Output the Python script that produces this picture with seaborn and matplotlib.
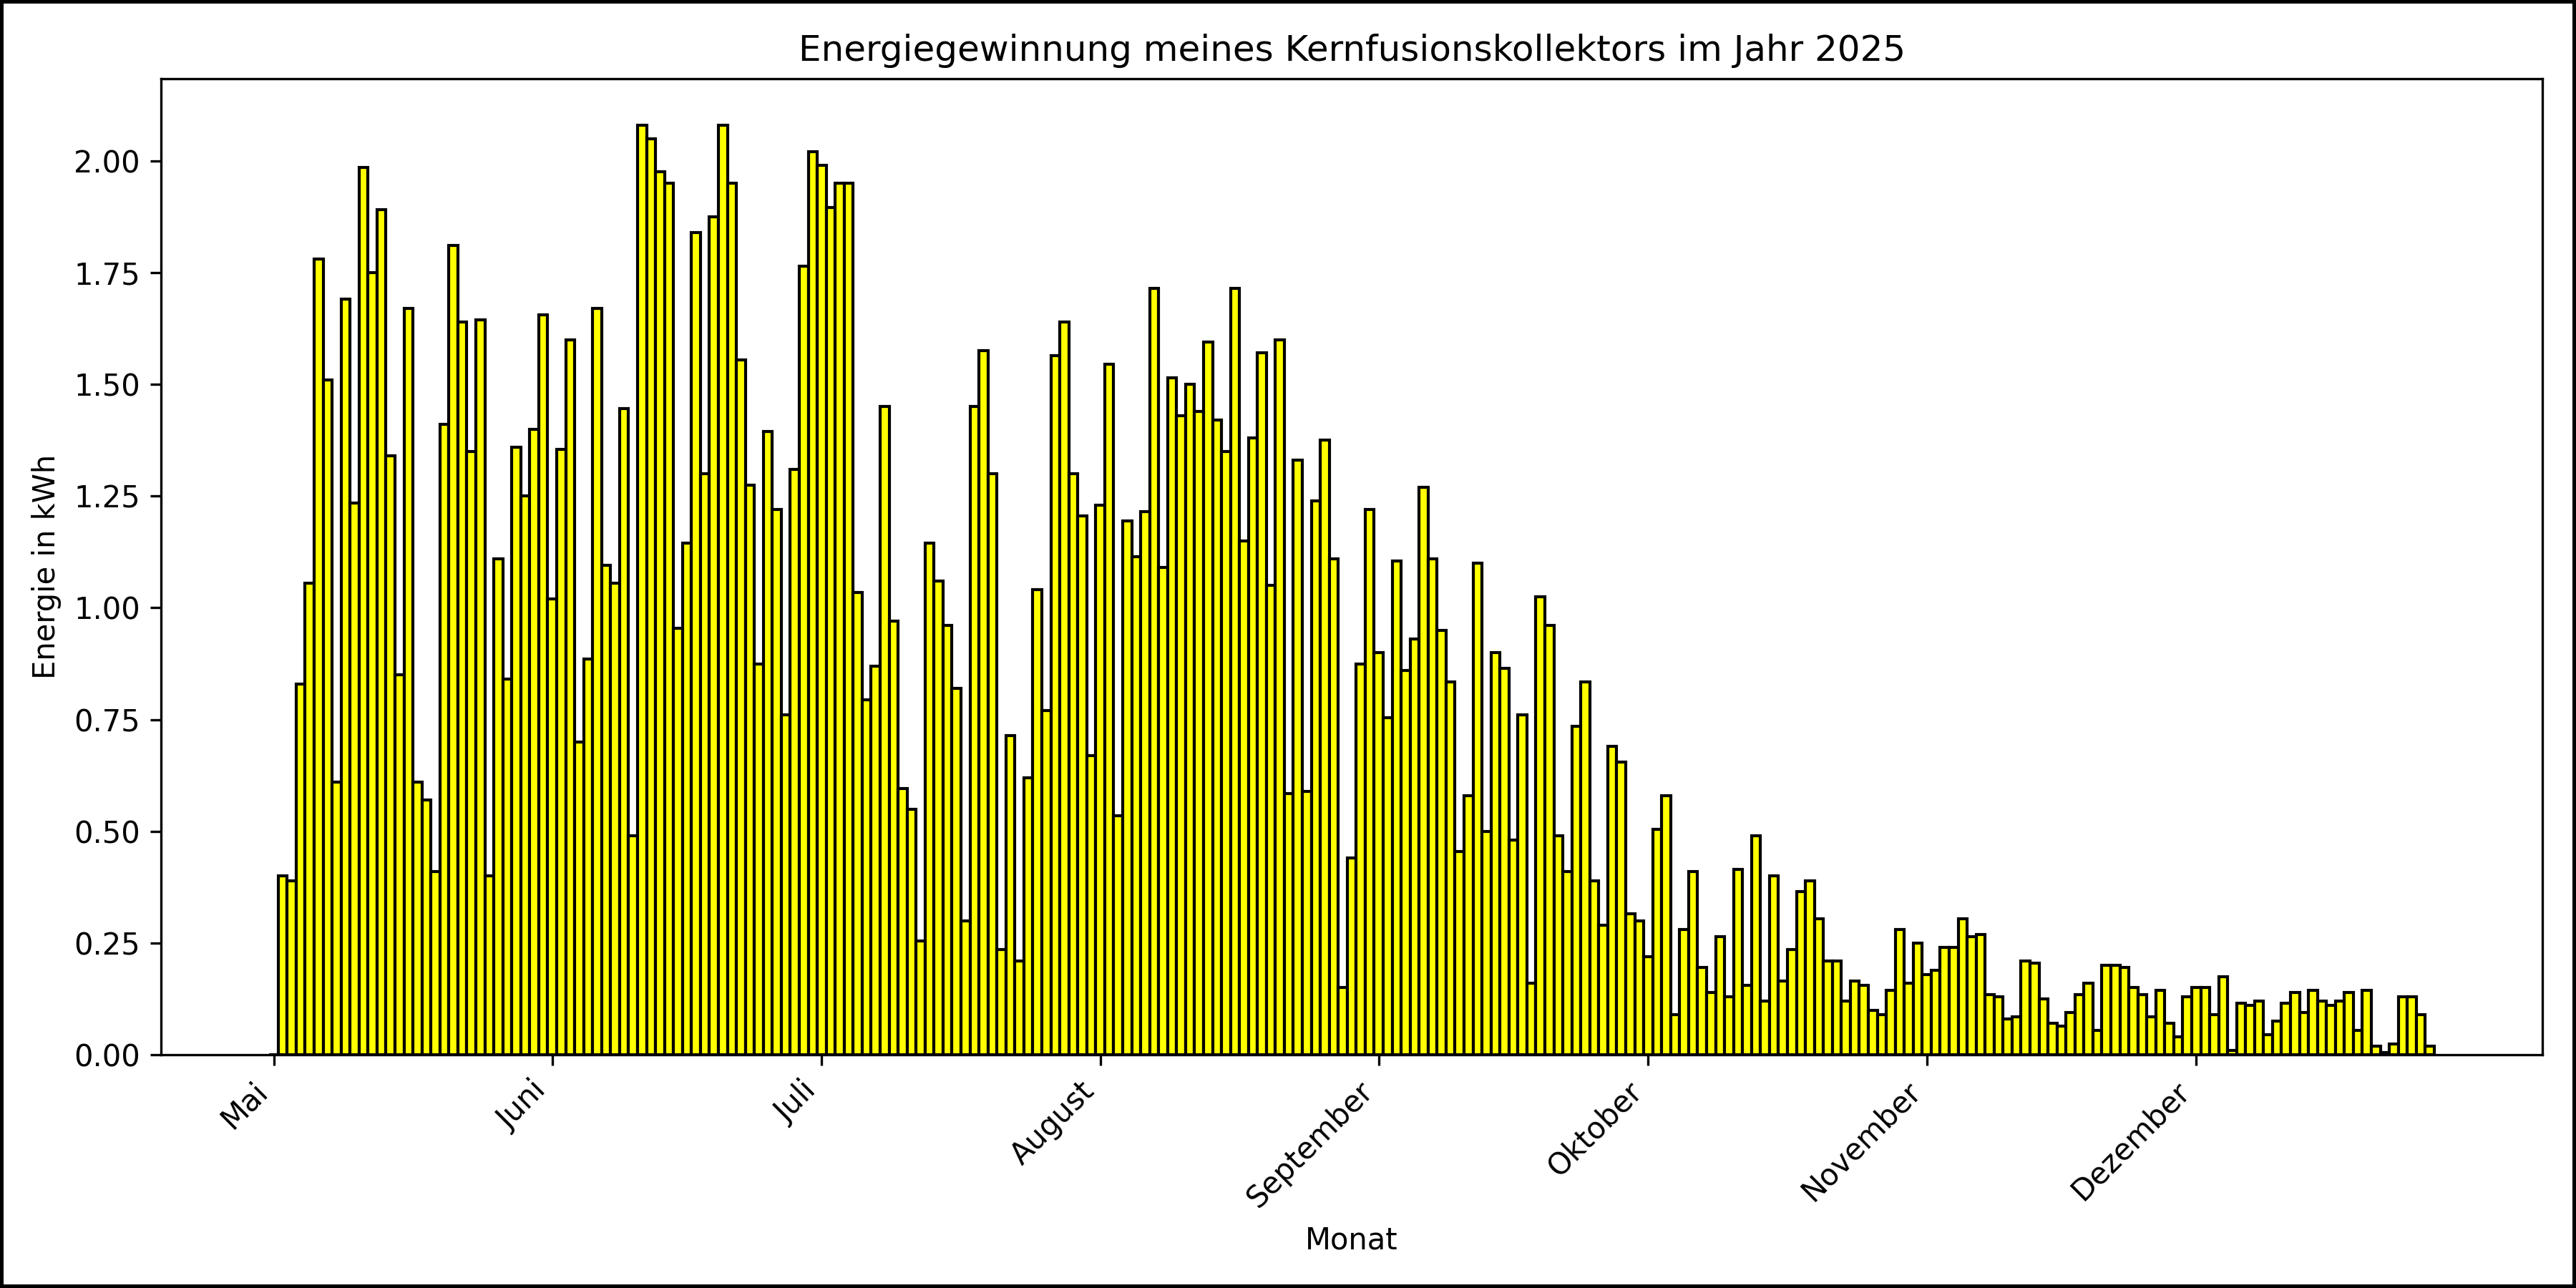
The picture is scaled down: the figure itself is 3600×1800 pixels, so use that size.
import numpy as np
import pandas as pd
import matplotlib
matplotlib.use("Agg")
import matplotlib.pyplot as plt
import seaborn as sns

# Tageswerte vom 1. Mai bis 27. Dezember 2025 (kWh)
start_date = "2025-05-01"
end_date = "2025-12-27"

energy_may = [0.00, 0.40, 0.39, 0.83, 1.055, 1.78, 1.51, 0.61, 1.69, 1.235,
              1.985, 1.75, 1.89, 1.34, 0.85, 1.67, 0.61, 0.57, 0.41, 1.41,
              1.81, 1.64, 1.35, 1.645, 0.40, 1.11, 0.84, 1.36, 1.25, 1.40,
              1.655]
energy_jun = [1.02, 1.355, 1.60, 0.70, 0.885, 1.67, 1.095, 1.055, 1.445, 0.49,
              2.08, 2.05, 1.975, 1.95, 0.955, 1.145, 1.84, 1.30, 1.875, 2.08,
              1.95, 1.555, 1.275, 0.875, 1.395, 1.22, 0.76, 1.31, 1.765, 2.02]
energy_jul = [1.99, 1.895, 1.95, 1.95, 1.035, 0.795, 0.87, 1.45, 0.97, 0.595,
              0.55, 0.255, 1.145, 1.06, 0.96, 0.82, 0.30, 1.45, 1.575, 1.30,
              0.235, 0.715, 0.21, 0.62, 1.04, 0.77, 1.565, 1.64, 1.30, 1.205,
              0.67]
energy_aug = [1.23, 1.545, 0.535, 1.195, 1.115, 1.215, 1.715, 1.09, 1.515, 1.43,
              1.50, 1.44, 1.595, 1.42, 1.35, 1.715, 1.15, 1.38, 1.57, 1.05,
              1.60, 0.585, 1.33, 0.59, 1.24, 1.375, 1.11, 0.15, 0.44, 0.875,
              1.22]
energy_sep = [0.90, 0.755, 1.105, 0.86, 0.93, 1.27, 1.11, 0.95, 0.835, 0.455,
              0.58, 1.10, 0.50, 0.90, 0.865, 0.48, 0.76, 0.16, 1.025, 0.96,
              0.49, 0.41, 0.735, 0.835, 0.39, 0.29, 0.69, 0.655, 0.315, 0.30]
energy_oct = [0.22, 0.505, 0.58, 0.09, 0.28, 0.41, 0.195, 0.14, 0.265, 0.13,
              0.415, 0.155, 0.49, 0.12, 0.40, 0.165, 0.235, 0.365, 0.39, 0.305,
              0.21, 0.21, 0.12, 0.165, 0.155, 0.10, 0.09, 0.145, 0.28, 0.16,
              0.25]
energy_nov = [0.18, 0.19, 0.24, 0.24, 0.305, 0.265, 0.27, 0.135, 0.13, 0.08,
              0.085, 0.21, 0.205, 0.125, 0.07, 0.065, 0.095, 0.135, 0.16, 0.055,
              0.20, 0.20, 0.195, 0.15, 0.135, 0.085, 0.145, 0.07, 0.04, 0.13]
energy_dec = [0.15, 0.15, 0.09, 0.175, 0.01, 0.115, 0.11, 0.12, 0.045, 0.075,
              0.115, 0.14, 0.095, 0.145, 0.12, 0.11, 0.12, 0.14, 0.055, 0.145,
              0.02, 0.005, 0.025, 0.13, 0.13, 0.09, 0.02]

month_labels = ["Mai", "Juni", "Juli", "August", "September", "Oktober",
                "November", "Dezember"]

energy = energy_may + energy_jun + energy_jul + energy_aug + energy_sep + energy_oct + energy_nov + energy_dec
dates = pd.date_range(start_date, end_date, freq="D")
df = pd.DataFrame({"Datum": dates, "Energie": energy})
df["Tag"] = (df["Datum"] - dates[0]).dt.days

month_starts = pd.date_range(start_date, end_date, freq="MS")
month_pos = (month_starts - dates[0]).days

fig, ax = plt.subplots(figsize=(12, 6), dpi=300)
fig.patch.set_edgecolor("black")
fig.patch.set_linewidth(2)

sns.barplot(data=df, x="Tag", y="Energie", native_scale=True, width=1,
            color="yellow", saturation=1, edgecolor="black", linewidth=1,
            errorbar=None, ax=ax)

ax.set_xticks(month_pos)
ax.set_xticklabels(month_labels, rotation=45, ha="right")
ax.set_title("Energiegewinnung meines Kernfusionskollektors im Jahr 2025")
ax.set_xlabel("Monat")
ax.set_ylabel("Energie in kWh")
ax.yaxis.set_major_formatter(matplotlib.ticker.FormatStrFormatter("%.2f"))

plt.subplots_adjust(left=0.0625, right=0.987, bottom=0.181, top=0.939)
plt.savefig("out.png", dpi=300)
